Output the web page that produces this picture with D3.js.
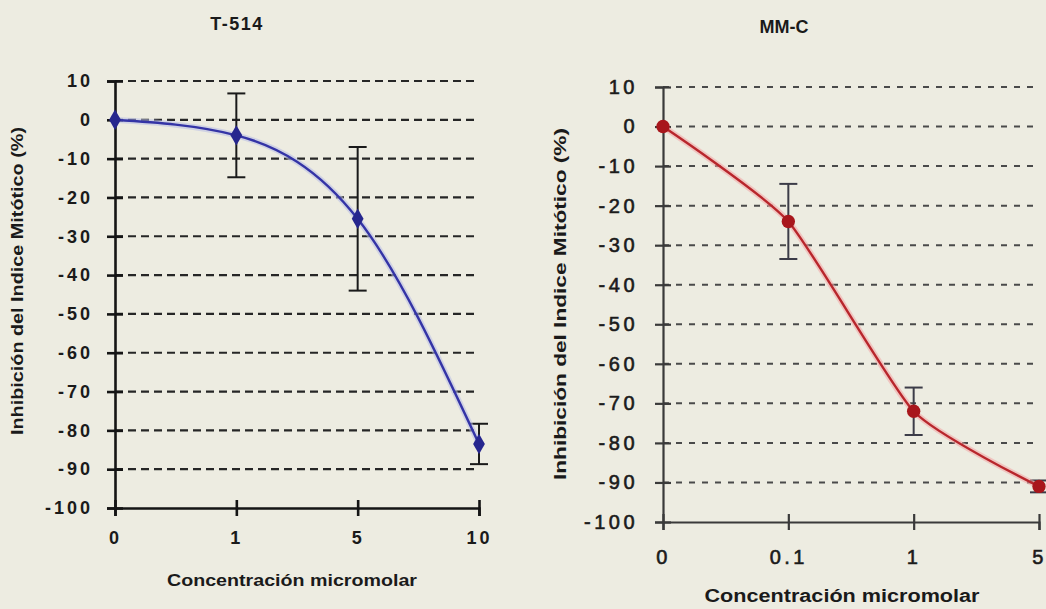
<!DOCTYPE html>
<html>
<head>
<meta charset="utf-8">
<script src="https://cdn.jsdelivr.net/npm/d3@7"></script>
<style>
  html, body { margin: 0; padding: 0; background: #edece1; }
  svg { display: block; }
  text { font-family: "Liberation Sans", Arial, Helvetica, sans-serif; fill: #1a1a1a; }
</style>
</head>
<body>
<svg id="chart" width="1046" height="609"></svg>
<script>
// Y axis ticks shared by both panels (percent)
const yTicks = [10, 0, -10, -20, -30, -40, -50, -60, -70, -80, -90, -100];

// Panel A: T-514
const t514Doses = ["0", "1", "5", "10"];
const t514Mean = [0, -4, -25.5, -83.5];
const t514Err = [0, 10.8, 18.5, 5.2];

// Panel B: MM-C
const mmcDoses = ["0", "0.1", "1", "5"];
const mmcMean = [0, -24, -72, -91];
const mmcErr = [0, 9.5, 6, 1.5];

const yTitle = "Inhibición del Indice Mitótico (%)";
const xTitle = "Concentración micromolar";

const svg = d3.select("#chart");

function styleTicks(sel, cfg) {
  sel.selectAll(".tick text")
    .style("font-family", "'Liberation Sans', Arial, sans-serif")
    .style("font-size", cfg.tickFont + "px")
    .style("font-weight", cfg.tickWeight)
    .style("letter-spacing", cfg.tickSpacing + "px")
    .attr("fill", "#1e1e1e")
    .attr("stroke", "#1e1e1e").attr("stroke-width", cfg.tickStroke);
}

function panel(cfg) {
  const g = svg.append("g");
  const x = d3.scalePoint().domain(cfg.doses).range([cfg.x0, cfg.x1]);
  const y = d3.scaleLinear().domain([-100, 10]).range([cfg.yBottom, cfg.yTop]);

  // dashed horizontal grid
  g.append("g").selectAll("line").data(yTicks.filter(v => v !== -100)).join("line")
    .attr("x1", cfg.x0).attr("x2", cfg.x1)
    .attr("y1", d => y(d)).attr("y2", d => y(d))
    .attr("stroke", cfg.gridColor).attr("stroke-width", cfg.gridWidth)
    .attr("stroke-dasharray", cfg.dash);

  // Y axis with ticks crossing the spine
  const ya = g.append("g").attr("transform", `translate(${cfg.x0},0)`)
    .call(d3.axisLeft(y).tickValues(yTicks).tickFormat(d => String(d))
      .tickSize(8).tickPadding(cfg.yPad));
  ya.select(".domain").attr("stroke", cfg.axisColor).attr("stroke-width", cfg.axisWidth);
  ya.selectAll(".tick line").attr("x1", -8).attr("x2", 8)
    .attr("stroke", cfg.axisColor).attr("stroke-width", cfg.axisWidth);
  styleTicks(ya, cfg);

  // X axis
  const xa = g.append("g").attr("transform", `translate(0,${cfg.yBottom})`)
    .call(d3.axisBottom(x).tickSize(8).tickPadding(cfg.xPad));
  xa.select(".domain").attr("stroke", cfg.axisColor).attr("stroke-width", cfg.axisWidth);
  xa.selectAll(".tick line").attr("y1", -8).attr("y2", 8)
    .attr("stroke", cfg.axisColor).attr("stroke-width", cfg.axisWidth);
  styleTicks(xa, cfg);

  const pts = cfg.doses.map((d, i) => ({ d, m: cfg.mean[i], e: cfg.err[i] }));
  const line = d3.line().x(p => x(p.d)).y(p => y(p.m)).curve(cfg.curve);

  // error bars
  const eb = g.append("g").selectAll("g").data(pts.filter(p => p.e > 0)).join("g")
    .attr("stroke", cfg.errColor).attr("stroke-width", 2);
  eb.append("line").attr("x1", p => x(p.d)).attr("x2", p => x(p.d))
    .attr("y1", p => y(p.m + p.e)).attr("y2", p => y(p.m - p.e));
  eb.append("line").attr("x1", p => x(p.d) - 9).attr("x2", p => x(p.d) + 9)
    .attr("y1", p => y(p.m + p.e)).attr("y2", p => y(p.m + p.e));
  eb.append("line").attr("x1", p => x(p.d) - 9).attr("x2", p => x(p.d) + 9)
    .attr("y1", p => y(p.m - p.e)).attr("y2", p => y(p.m - p.e));

  // series line with a soft halo
  g.append("path").datum(pts).attr("d", line).attr("fill", "none")
    .attr("stroke", cfg.halo).attr("stroke-width", 6).attr("stroke-opacity", 0.55);
  g.append("path").datum(pts).attr("d", line).attr("fill", "none")
    .attr("stroke", cfg.lineColor).attr("stroke-width", 2.4);

  // markers
  g.append("g").selectAll("path").data(pts).join("path")
    .attr("transform", p => `translate(${x(p.d)},${y(p.m)})`)
    .attr("d", d3.symbol().type(cfg.symbol).size(cfg.symbolSize))
    .attr("fill", cfg.markColor);

  // titles
  g.append("text").attr("x", cfg.titleX).attr("y", cfg.titleY)
    .attr("text-anchor", "middle").style("font-size", cfg.titleFont + "px").style("font-weight", "bold")
    .style("letter-spacing", cfg.titleSpacing + "px")
    .text(cfg.title);

  g.append("text").attr("transform", `translate(${cfg.yLabX},${cfg.yLabY}) rotate(-90)`)
    .attr("text-anchor", "middle").style("font-size", cfg.labFont + "px").style("font-weight", "bold")
    .attr("textLength", cfg.yLabLen).attr("lengthAdjust", "spacingAndGlyphs")
    .text(yTitle);

  g.append("text").attr("x", cfg.xLabX).attr("y", cfg.xLabY)
    .attr("text-anchor", "middle").style("font-size", cfg.xLabFont + "px").style("font-weight", "bold")
    .attr("textLength", cfg.xLabLen).attr("lengthAdjust", "spacingAndGlyphs")
    .text(xTitle);
}

panel({
  doses: t514Doses, mean: t514Mean, err: t514Err, curve: d3.curveMonotoneX,
  x0: 115, x1: 479, yTop: 81, yBottom: 508,
  gridColor: "#262626", gridWidth: 2.2, axisColor: "#151515", axisWidth: 2.6,
  errColor: "#1a1a1a", dash: "8,5",
  lineColor: "#3434a6", halo: "#b8bde6", markColor: "#26268e",
  symbol: d3.symbolDiamond, symbolSize: 120,
  tickFont: 18, tickWeight: "bold", tickSpacing: 3, tickStroke: 0, yPad: 14, xPad: 15,
  title: "T-514", titleX: 237, titleY: 30, titleFont: 18, titleSpacing: 1.5,
  yLabX: 23, yLabY: 281, yLabLen: 308, labFont: 16,
  xLabX: 292, xLabY: 586, xLabLen: 250, xLabFont: 17
});

panel({
  doses: mmcDoses, mean: mmcMean, err: mmcErr, curve: d3.curveCardinal.tension(0.45),
  x0: 663, x1: 1039, yTop: 87, yBottom: 522,
  gridColor: "#4a4a4a", gridWidth: 2, axisColor: "#3a3a3a", axisWidth: 2.2,
  errColor: "#3c3c48", dash: "6,7",
  lineColor: "#b8262c", halo: "#f2a6a6", markColor: "#a8161c",
  symbol: d3.symbolCircle, symbolSize: 140,
  tickFont: 20, tickWeight: "normal", tickSpacing: 3.5, tickStroke: 0.6, yPad: 17, xPad: 20,
  title: "MM-C", titleX: 784, titleY: 33, titleFont: 18, titleSpacing: 0,
  yLabX: 566, yLabY: 304, yLabLen: 352, labFont: 17,
  xLabX: 842, xLabY: 602, xLabLen: 275, xLabFont: 18
});
</script>
</body>
</html>
